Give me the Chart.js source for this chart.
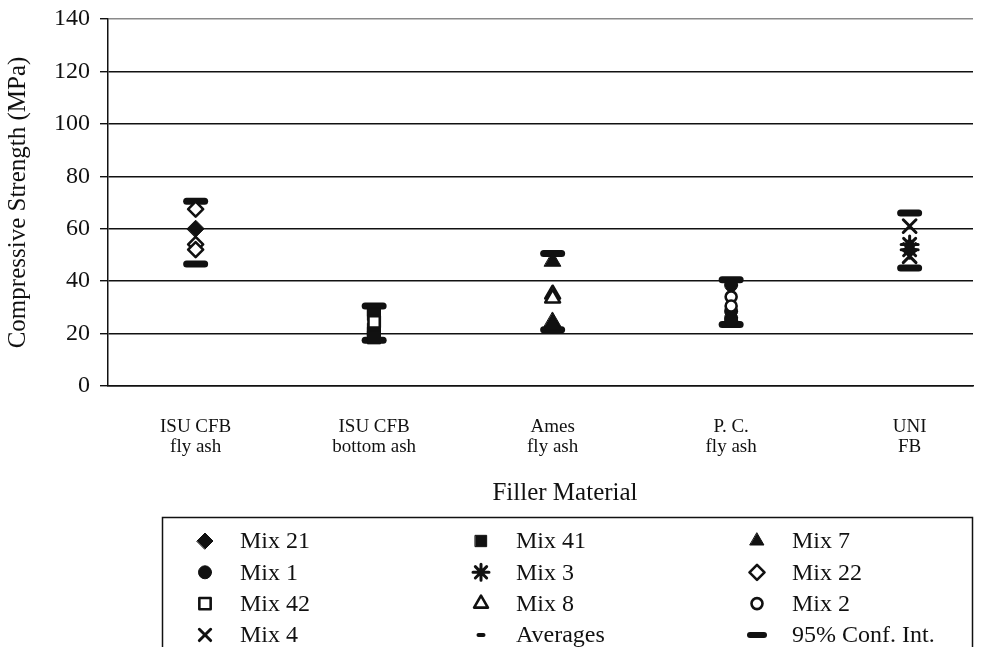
<!DOCTYPE html>
<html>
<head>
<meta charset="utf-8">
<script src="https://cdn.jsdelivr.net/npm/chart.js@4.4.1/dist/chart.umd.min.js"></script>
<style>
  html, body { margin: 0; padding: 0; background: #fff; overflow: hidden; }
  #wrap { position: relative; width: 989px; height: 647px; }
</style>
</head>
<body>
<div id="wrap"><canvas id="chart"></canvas></div>
<script>
// Filler materials along the x axis
const categories = [
  ['ISU CFB', 'fly ash'],
  ['ISU CFB', 'bottom ash'],
  ['Ames', 'fly ash'],
  ['P. C.', 'fly ash'],
  ['UNI', 'FB']
];

// Compressive strength (MPa) of each specimen: [filler index, value]
const mix21 = [[0, 60]];
const mix41 = [[1, 29], [1, 27.5], [1, 21.5], [1, 20], [1, 18.5]];
const mix7  = [[2, 47.5], [2, 24.5], [2, 23]];
const mix1  = [[3, 38.5], [3, 28.5], [3, 26], [3, 25]];
const mix3  = [[4, 54], [4, 52]];
const mix22 = [[0, 67.5], [0, 54], [0, 52]];
const mix42 = [[1, 24.5]];
const mix8  = [[2, 35], [2, 33.5]];
const mix2  = [[3, 34], [3, 30.5]];
const mix4  = [[4, 61], [4, 49.5]];

// Per-filler averages and 95% confidence limits (MPa)
const averages = [59, 24, 35, 31.5, 55];
const ciUpper  = [70.5, 30.5, 50.5, 40.5, 66];
const ciLower  = [46.5, 17.5, 21.5, 23.5, 45];

const yTicks = [0, 20, 40, 60, 80, 100, 120, 140];
const xTitle = 'Filler Material';

const SERIF = '"Liberation Serif", "Times New Roman", serif';
const INK = '#111';

const pts = arr => arr.map(([x, y]) => ({ x, y }));
const perFiller = arr => arr.map((y, x) => ({ x, y }));

function filled(label, data, style, radius, order) {
  return {
    label, data: pts(data), pointStyle: style, pointRadius: radius,
    backgroundColor: INK, borderColor: INK, borderWidth: 1, order
  };
}
function hollow(label, data, style, radius) {
  return {
    label, data: pts(data), pointStyle: style, pointRadius: radius,
    backgroundColor: '#fff', borderColor: INK, borderWidth: 2.6, order: 0
  };
}

// Listed in legend order (three per row)
const datasets = [
  filled('Mix 21', mix21, 'rectRot', 8.5, 2),
  filled('Mix 41', mix41, 'rect', 9, 2),
  filled('Mix 7', mix7, 'triangle', 9.5, 2),
  filled('Mix 1', mix1, 'circle', 6.5, 2),
  { label: 'Mix 3', data: pts(mix3), pointStyle: 'star', pointRadius: 8.5,
    backgroundColor: INK, borderColor: INK, borderWidth: 3, order: 1 },
  hollow('Mix 22', mix22, 'rectRot', 7.5),
  hollow('Mix 42', mix42, 'rect', 8),
  hollow('Mix 8', mix8, 'triangle', 8.5),
  hollow('Mix 2', mix2, 'circle', 5.5),
  { label: 'Mix 4', data: pts(mix4), pointStyle: 'crossRot', pointRadius: 9,
    backgroundColor: INK, borderColor: INK, borderWidth: 3, order: 1 },
  { label: 'Averages', data: perFiller(averages), pointStyle: 'line', pointRadius: 2.5,
    backgroundColor: INK, borderColor: INK, borderWidth: 4, order: 1, legendRadius: 2.5 },
  { label: '95% Conf. Int.', data: perFiller(ciUpper).concat(perFiller(ciLower)),
    pointStyle: 'line', pointRadius: 9, backgroundColor: INK, borderColor: INK,
    borderWidth: 7, order: 3, legendRadius: 7, legendBorderWidth: 6 }
];

// Rounded stroke ends for the marker glyphs
const roundCaps = {
  id: 'roundCaps',
  beforeDatasetsDraw(chart) { chart.ctx.lineCap = 'round'; chart.ctx.lineJoin = 'round'; },
  afterDatasetsDraw(chart) { chart.ctx.lineCap = 'butt'; chart.ctx.lineJoin = 'miter'; }
};

// Axis title under the filler labels, and the boxed three-column legend
const boxLegend = {
  id: 'boxLegend',
  afterDraw(chart) {
    const ctx = chart.ctx;
    ctx.save();
    ctx.fillStyle = INK;
    ctx.font = '25px ' + SERIF;
    ctx.textAlign = 'center';
    ctx.textBaseline = 'middle';
    ctx.fillText(xTitle, 565, 493);

    ctx.strokeStyle = INK;
    ctx.lineWidth = 1.5;
    ctx.strokeRect(162.5, 517.5, 810, 200);
    ctx.font = '24px ' + SERIF;
    ctx.textAlign = 'left';
    chart.data.datasets.forEach((ds, i) => {
      const col = i % 3, row = Math.floor(i / 3);
      const mx = 205 + col * 276;
      const y = 541 + row * 31.3;
      ctx.save();
      ctx.lineCap = 'round';
      ctx.lineJoin = 'round';
      ctx.fillStyle = ds.backgroundColor;
      ctx.strokeStyle = ds.borderColor;
      const bw = ds.legendBorderWidth ?? ds.borderWidth;
      ctx.lineWidth = bw;
      Chart.helpers.drawPoint(ctx, {
        pointStyle: ds.pointStyle,
        radius: ds.legendRadius ?? Math.min(ds.pointRadius, 8),
        rotation: 0,
        borderWidth: bw
      }, mx, y);
      ctx.restore();
      ctx.fillStyle = INK;
      ctx.fillText(ds.label, mx + 35, y + 1);
    });
    ctx.restore();
  }
};

new Chart(document.getElementById('chart'), {
  type: 'scatter',
  data: { datasets },
  plugins: [roundCaps, boxLegend],
  options: {
    responsive: true,
    maintainAspectRatio: false,
    animation: false,
    layout: { padding: { left: 0, top: 19, right: 16, bottom: 136 } },
    plugins: { legend: { display: false }, tooltip: { enabled: false } },
    scales: {
      x: {
        type: 'linear',
        min: -0.491,
        max: 4.355,
        afterBuildTicks: scale => { scale.ticks = categories.map((_, i) => ({ value: i })); },
        afterFit: scale => { scale.height = 125; scale.paddingLeft = 0; scale.paddingRight = 0; },
        grid: { display: false, drawTicks: false },
        border: { display: true, color: INK, width: 1.5 },
        ticks: {
          padding: 31,
          color: INK,
          maxRotation: 0,
          autoSkip: false,
          font: { family: SERIF, size: 19, lineHeight: 1.05 },
          callback: v => categories[v]
        },
        title: { display: false }
      },
      y: {
        min: 0,
        max: 140,
        afterBuildTicks: scale => { scale.ticks = yTicks.map(v => ({ value: v })); },
        afterFit: scale => { scale.width = 108; scale.paddingTop = 0; scale.paddingBottom = 0; },
        grid: {
          color: c => (c.tick && c.tick.value === 140) ? '#8a8a8a' : INK,
          lineWidth: 1.4,
          drawTicks: true,
          tickLength: 8,
          tickColor: INK
        },
        border: { display: true, color: INK, width: 1.5 },
        ticks: {
          padding: 10,
          color: INK,
          font: { family: SERIF, size: 24 }
        },
        title: {
          display: true,
          text: 'Compressive Strength (MPa)',
          color: INK,
          font: { family: SERIF, size: 25, lineHeight: 1.2 },
          padding: { top: 3, bottom: 0 }
        }
      }
    }
  }
});
</script>
</body>
</html>
